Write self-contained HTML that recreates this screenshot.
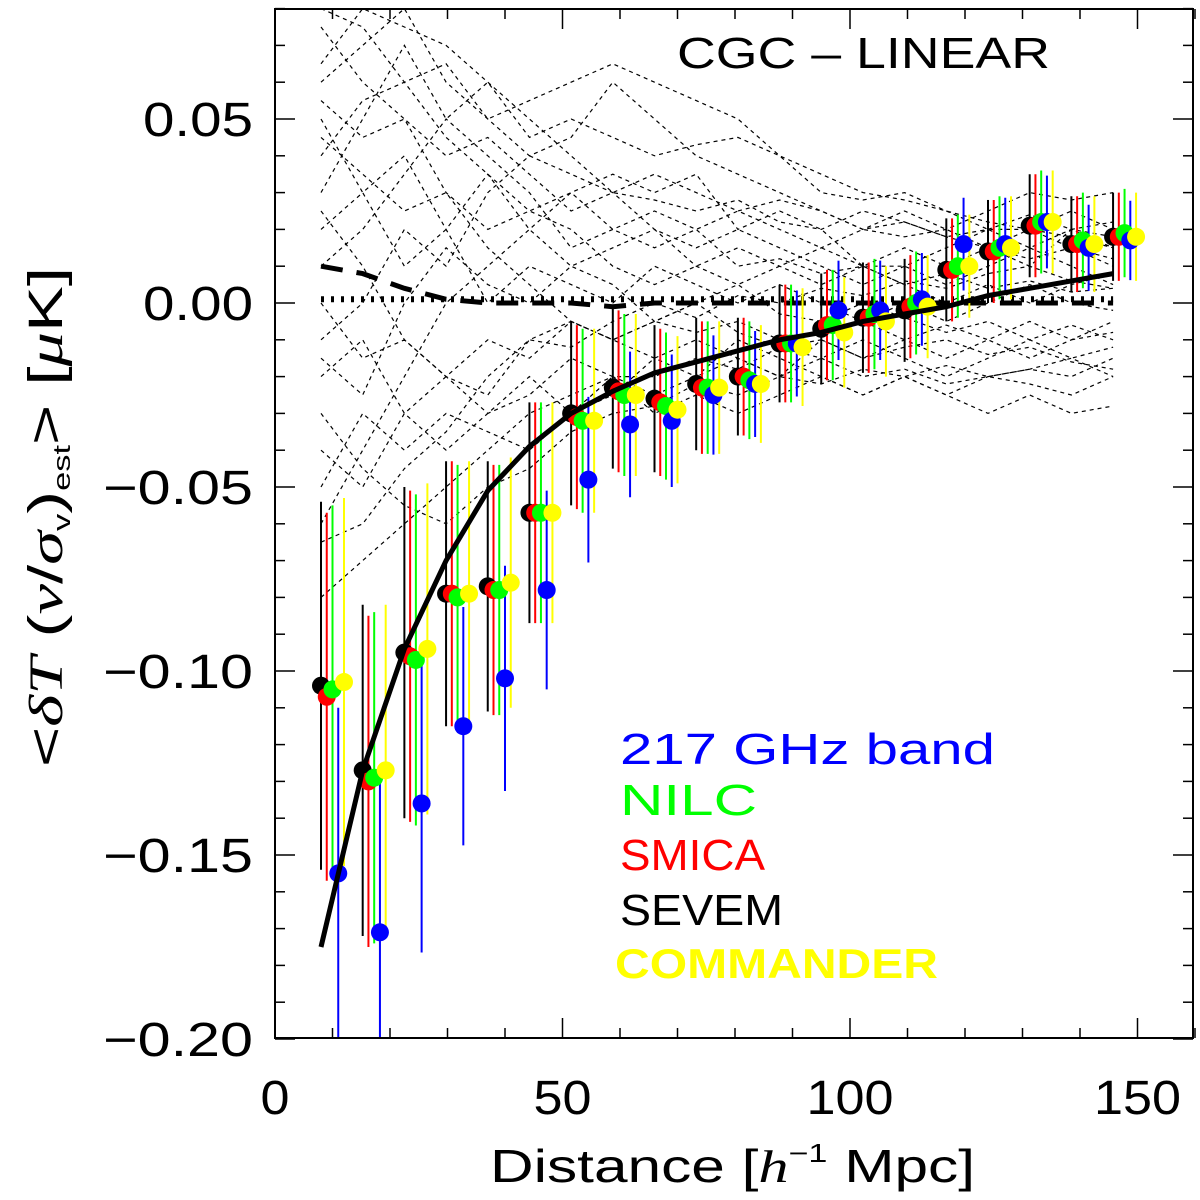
<!DOCTYPE html>
<html><head><meta charset="utf-8"><style>
body{margin:0;background:#fff}
svg text{font-family:"Liberation Sans",sans-serif}
</style></head><body>
<svg id="chart" width="1200" height="1195" xmlns="http://www.w3.org/2000/svg">
<defs><clipPath id="pc"><rect x="275" y="9" width="918" height="1029"/></clipPath></defs>
<g id="mocks" clip-path="url(#pc)"></g>
<g id="marks" clip-path="url(#pc)"></g>
<rect x="275" y="9" width="918" height="1029" fill="none" stroke="#000" stroke-width="2"/>
<g id="axes"></g>
<text x="677" y="68" font-size="44" textLength="373" lengthAdjust="spacingAndGlyphs">CGC – LINEAR</text>
<text x="620" y="764" font-size="44" fill="#0000ff" textLength="375" lengthAdjust="spacingAndGlyphs">217 GHz band</text>
<text x="620" y="815" font-size="44" fill="#00ff00" textLength="137" lengthAdjust="spacingAndGlyphs">NILC</text>
<text x="620" y="870" font-size="44" fill="#ff0000" textLength="145" lengthAdjust="spacingAndGlyphs">SMICA</text>
<text x="620" y="925" font-size="44" fill="#000" textLength="163" lengthAdjust="spacingAndGlyphs">SEVEM</text>
<text x="615" y="978" font-size="42" font-weight="bold" fill="#ffff00" textLength="323" lengthAdjust="spacingAndGlyphs">COMMANDER</text>
<text x="490" y="1182" font-size="46" textLength="485" lengthAdjust="spacingAndGlyphs">Distance [<tspan font-family="Liberation Serif" font-style="italic">h</tspan><tspan font-size="26" dy="-20">−1</tspan><tspan dy="20"> Mpc]</tspan></text>
<text transform="translate(62,767) rotate(-90)" font-size="48" textLength="500" lengthAdjust="spacingAndGlyphs">&lt;<tspan font-family="Liberation Serif" font-style="italic">δT</tspan> (<tspan font-family="Liberation Serif" font-style="italic">v</tspan>/<tspan font-family="Liberation Serif" font-style="italic">σ</tspan><tspan font-size="24" dy="8">v</tspan><tspan dy="-8">)</tspan><tspan font-size="24" dy="8">est</tspan><tspan dy="-8">&gt; [</tspan><tspan font-family="Liberation Serif" font-style="italic">μ</tspan>K]</text>
</svg>
<script>
const distances=[8,15.25,22.5,29.75,37,44.25,51.5,58.75,66,73.25,80.5,87.75,95,102.25,109.5,116.75,124,131.25,138.5,145.75];
const sevem=[-0.104,-0.127,-0.095,-0.079,-0.077,-0.057,-0.030,-0.023,-0.026,-0.022,-0.020,-0.011,-0.007,-0.004,-0.002,0.009,0.014,0.021,0.016,0.018];
const smica=[-0.107,-0.130,-0.096,-0.079,-0.078,-0.057,-0.031,-0.024,-0.027,-0.023,-0.020,-0.011,-0.006,-0.004,-0.001,0.009,0.014,0.021,0.016,0.018];
const nilc=[-0.105,-0.129,-0.097,-0.080,-0.078,-0.057,-0.032,-0.025,-0.028,-0.023,-0.021,-0.011,-0.006,-0.003,0.000,0.010,0.015,0.022,0.017,0.019];
const band217=[-0.155,-0.171,-0.136,-0.115,-0.102,-0.078,-0.048,-0.033,-0.032,-0.025,-0.022,-0.011,-0.002,-0.002,0.001,0.016,0.016,0.022,0.015,0.017];
const commander=[-0.103,-0.127,-0.094,-0.079,-0.076,-0.057,-0.032,-0.025,-0.029,-0.023,-0.022,-0.012,-0.008,-0.005,-0.001,0.010,0.015,0.022,0.016,0.018];
const errors=[0.050,0.045,0.045,0.036,0.034,0.030,0.025,0.022,0.020,0.018,0.016,0.016,0.015,0.015,0.014,0.014,0.014,0.014,0.013,0.012];
const theory=[-0.175,-0.127,-0.094,-0.070,-0.051,-0.039,-0.030,-0.024,-0.019,-0.016,-0.013,-0.010,-0.008,-0.005,-0.003,-0.001,0.002,0.004,0.006,0.008];
const meanDashed=[0.010,0.008,0.004,0.001,0.000,0.000,0.000,-0.001,0.000,0.000,0.000,0.000,0.000,0.000,0.000,0.000,0.000,0.000,0.000,0.000];
const meanDotted=[0.001,0.001,0.001,0.001,0.001,0.001,0.001,0.001,0.001,0.001,0.001,0.001,0.001,0.001,0.001,0.001,0.001,0.001,0.001,0.001];
const mock1=[0.06,0.07,0.08,0.06,0.05,0.04,0.045,0.06,0.05,0.04,0.035,0.03,0.025,0.02,0.025,0.02,0.015,0.02,0.015,0.012];
const mock2=[0.03,0.05,0.07,0.05,0.06,0.045,0.05,0.045,0.04,0.043,0.045,0.04,0.03,0.028,0.03,0.025,0.02,0.02,0.025,0.02];
const mock3=[-0.06,-0.04,-0.02,0.0,0.01,0.02,0.03,0.035,0.03,0.035,0.02,0.025,0.02,0.01,0.015,0.01,0.015,0.01,0.02,0.015];
const mock4=[0.02,0.03,0.01,0.02,0.035,0.02,0.01,0.015,0.02,0.01,0.005,0.01,0.015,0.02,0.018,0.02,0.025,0.03,0.028,0.03];
const mock5=[-0.02,-0.01,-0.03,-0.02,-0.01,-0.015,-0.005,-0.01,-0.015,-0.02,-0.01,-0.015,-0.02,-0.025,-0.02,-0.025,-0.03,-0.025,-0.03,-0.028];
const mock6=[0.05,0.03,0.04,0.02,0.0,0.01,0.005,0.0,0.01,0.005,0.0,0.005,0.0,-0.005,0.0,-0.005,0.0,0.005,0.0,-0.002];
const mock7=[-0.08,-0.07,-0.06,-0.05,-0.04,-0.03,-0.025,-0.02,-0.025,-0.02,-0.015,-0.02,-0.015,-0.01,-0.015,-0.02,-0.015,-0.01,-0.015,-0.012];
const mock8=[0.075,0.06,0.05,0.03,0.02,0.025,0.02,0.01,0.005,0.01,0.015,0.01,0.005,0.01,0.005,0.0,0.005,0.0,0.005,0.008];
const mock9=[-0.04,-0.05,-0.03,-0.04,-0.03,-0.02,-0.03,-0.025,-0.015,-0.01,-0.015,-0.02,-0.01,-0.015,-0.01,-0.015,-0.01,-0.015,-0.01,-0.005];
const mock10=[0.01,0.02,0.035,0.05,0.04,0.03,0.015,0.02,0.025,0.02,0.025,0.02,0.015,0.01,0.01,0.005,0.01,0.015,0.01,0.005];
const mock11=[-0.01,0.0,0.02,0.01,0.03,0.04,0.035,0.03,0.02,0.015,0.02,0.015,0.01,0.005,0.01,0.015,0.02,0.015,0.02,0.018];
const mock12=[0.04,0.055,0.06,0.065,0.05,0.055,0.06,0.065,0.06,0.055,0.05,0.04,0.035,0.03,0.028,0.025,0.022,0.02,0.018,0.015];
const mock13=[-0.05,-0.03,-0.04,-0.03,-0.035,-0.04,-0.03,-0.02,-0.03,-0.025,-0.03,-0.025,-0.02,-0.025,-0.02,-0.025,-0.02,-0.018,-0.02,-0.015];
const mock14=[0.0,-0.015,-0.01,-0.02,-0.025,-0.01,-0.005,-0.01,-0.005,-0.008,-0.005,-0.01,-0.008,-0.005,-0.01,-0.006,-0.01,-0.005,-0.01,-0.008];
const mock15=[0.08,0.075,0.06,0.045,0.035,0.025,0.03,0.02,0.015,0.02,0.01,0.012,0.008,0.01,0.005,0.008,0.004,0.006,0.003,0.004];
const mock16=[-0.03,-0.045,-0.055,-0.06,-0.05,-0.045,-0.035,-0.03,-0.028,-0.022,-0.025,-0.02,-0.022,-0.018,-0.02,-0.017,-0.02,-0.022,-0.025,-0.02];
const mock17=[0.045,0.035,0.025,0.03,0.015,0.005,-0.005,-0.01,-0.005,0.0,-0.008,-0.012,-0.01,-0.015,-0.012,-0.01,-0.014,-0.012,-0.016,-0.018];
const mock18=[-0.065,-0.06,-0.045,-0.035,-0.02,-0.01,-0.012,-0.005,0.0,-0.004,0.002,0.0,0.004,0.002,0.006,0.004,0.008,0.01,0.006,0.004];
const mock19=[0.065,0.08,0.075,0.07,0.06,0.05,0.04,0.03,0.028,0.025,0.028,0.022,0.02,0.025,0.022,0.018,0.02,0.024,0.02,0.022];
const mock20=[-0.015,-0.025,0.0,0.015,0.005,0.0,0.01,0.005,-0.005,0.0,0.005,-0.003,-0.005,0.0,-0.004,-0.008,-0.005,-0.01,-0.006,-0.01];
const mock21=[0.025,0.01,-0.01,-0.02,-0.03,-0.025,-0.015,-0.02,-0.02,-0.015,-0.018,-0.012,-0.015,-0.02,-0.018,-0.022,-0.02,-0.018,-0.015,-0.02];
const mock22=[0.055,0.045,0.05,0.04,0.045,0.035,0.025,0.03,0.035,0.03,0.025,0.028,0.025,0.02,0.022,0.018,0.015,0.012,0.015,0.01];
const xTicks=[0,50,100,150];
const xTickLabels=["0","50","100","150"];
const yTicks=[0.05,0,-0.05,-0.10,-0.15,-0.20];
const yTickLabels=["0.05","0.00","−0.05","−0.10","−0.15","−0.20"];

const NS="http://www.w3.org/2000/svg";
const X=v=>275+v*5.75;
const Y=v=>303-v*3680;
function mk(tag,parent,attrs){const e=document.createElementNS(NS,tag);for(const k in attrs)e.setAttribute(k,attrs[k]);parent.appendChild(e);return e;}
const mocksG=document.getElementById('mocks'),marksG=document.getElementById('marks'),axesG=document.getElementById('axes');
const pts=arr=>arr.map((v,i)=>X(distances[i]).toFixed(1)+','+Y(v).toFixed(1)).join(' ');

[mock1,mock2,mock3,mock4,mock5,mock6,mock7,mock8,mock9,mock10,mock11,mock12,mock13,mock14,mock15,mock16,mock17,mock18,mock19,mock20,mock21,mock22].forEach((m,k)=>{
  const p=mk('polyline',mocksG,{points:pts(m),fill:'none',stroke:'#000','stroke-width':1.2,'stroke-dasharray':'4,4'});
  
  
});
let l=mk('polyline',mocksG,{points:pts(meanDashed),fill:'none',stroke:'#000','stroke-width':5,'stroke-dasharray':'22,14'});


l=mk('polyline',mocksG,{points:pts(meanDotted),fill:'none',stroke:'#000','stroke-width':6,'stroke-dasharray':'3,7'});



const series=[[sevem,'#000',0,1,'sevem'],[smica,'#ff0000',1,1,'smica'],[nilc,'#00ff00',2,1,'nilc'],[band217,'#0000ff',3,0.9,'217ghz'],[commander,'#ffff00',4,1,'commander']];
series.forEach(([arr,col,off,ef,nm])=>{
  arr.forEach((v,i)=>{
    const x=X(distances[i]+off);
    const e=mk('line',marksG,{x1:x,x2:x,y1:Y(v+errors[i]*ef),y2:Y(v-errors[i]*ef),stroke:col,'stroke-width':2});
    
    
  });
});
series.forEach(([arr,col,off,ef,nm])=>{
  arr.forEach((v,i)=>{
    const c=mk('circle',marksG,{cx:X(distances[i]+off),cy:Y(v),r:9,fill:col});
    
    
  });
});
l=mk('polyline',marksG,{points:pts(theory),fill:'none',stroke:'#000','stroke-width':5});



for(let v=0;v<=160;v+=10){
  const major=v%50===0;const x=X(v);
  mk('line',axesG,{x1:x,x2:x,y1:1038,y2:1038-(major?20:10),stroke:'#000','stroke-width':1.5});
  mk('line',axesG,{x1:x,x2:x,y1:9,y2:9+(major?20:10),stroke:'#000','stroke-width':1.5});
}
for(let k=-20;k<=8;k++){
  const v=k/100;const major=k%5===0;const y=Y(v);
  mk('line',axesG,{x1:275,x2:275+(major?20:10),y1:y,y2:y,stroke:'#000','stroke-width':1.5});
  mk('line',axesG,{x1:1193,x2:1193-(major?20:10),y1:y,y2:y,stroke:'#000','stroke-width':1.5});
}
xTicks.forEach((v,i)=>{
  const t=mk('text',axesG,{x:X(v),y:1114,'font-size':48,'text-anchor':'middle',textLength:xTickLabels[i].length*29,lengthAdjust:'spacingAndGlyphs'});
  t.textContent=xTickLabels[i];
  
  
});
yTicks.forEach((v,i)=>{
  const neg=yTickLabels[i].startsWith('−');
  const t=mk('text',axesG,{x:253,y:Y(v)+17,'font-size':48,'text-anchor':'end',textLength:neg?150:110,lengthAdjust:'spacingAndGlyphs'});
  t.textContent=yTickLabels[i];
  
  
});
</script>
</body></html>
